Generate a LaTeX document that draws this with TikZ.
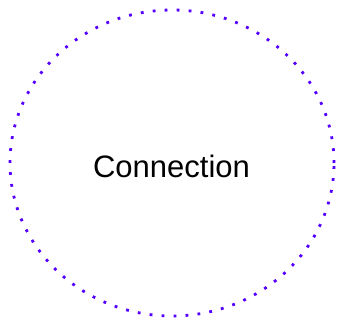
\documentclass[tikz,border=0pt]{standalone}
\usepackage{fontspec}
\setmainfont{Liberation Sans}
\definecolor{ringblue}{RGB}{85,0,255}
\tikzset{
  ring/.style={draw=ringblue, line width=2.8pt, dash pattern=on 2.8pt off 9.2pt},
  label/.style={font=\fontsize{31}{36}\selectfont, text=black, inner sep=0pt, anchor=base}
}
\begin{document}
\begin{tikzpicture}[x=1pt,y=1pt]
\useasboundingbox (0,0) rectangle (337,322);
\draw[ring] (172,159) ellipse [x radius=162, y radius=153];
\node[label] (conn) at (171.5,145) {Connection};
\end{tikzpicture}
\end{document}
